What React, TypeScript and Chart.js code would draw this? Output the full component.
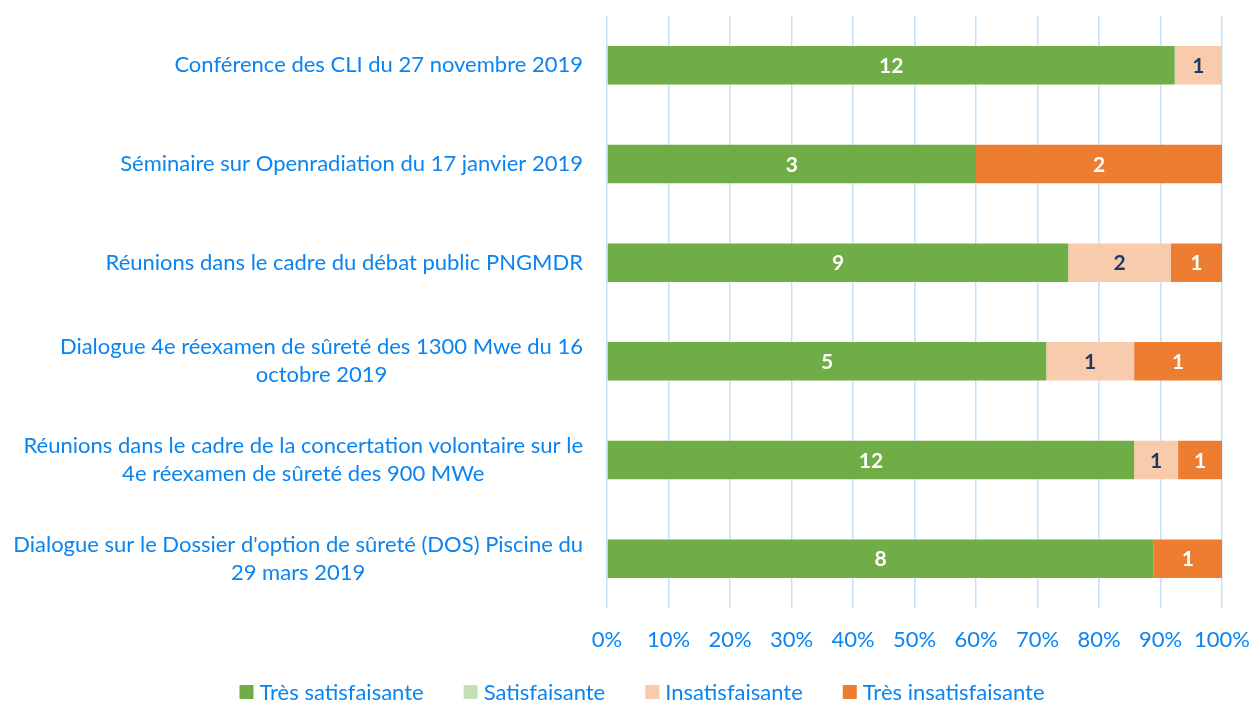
import React, { useEffect, useRef } from "react";
import { Chart, registerables } from "chart.js";

Chart.register(...registerables);

const categories: string[][] = [
  ["Conférence des CLI du 27 novembre 2019"],
  ["Séminaire sur Openradiation du 17 janvier 2019"],
  ["Réunions dans le cadre du débat public PNGMDR"],
  ["Dialogue 4e réexamen de sûreté des 1300 Mwe du 16", "octobre 2019"],
  ["Réunions dans le cadre de la concertation volontaire sur le", "4e réexamen de sûreté des 900 MWe"],
  ["Dialogue sur le Dossier d'option de sûreté (DOS) Piscine du", "29 mars 2019"],
];

const seriesNames = ["Très satisfaisante", "Satisfaisante", "Insatisfaisante", "Très insatisfaisante"];
const tresSatisfaisante = [12, 3, 9, 5, 12, 8];
const satisfaisante = [0, 0, 0, 0, 0, 0];
const insatisfaisante = [1, 0, 2, 1, 1, 0];
const tresInsatisfaisante = [0, 2, 1, 1, 1, 1];
const xTickLabels = ["0%", "10%", "20%", "30%", "40%", "50%", "60%", "70%", "80%", "90%", "100%"];

const colors = ["#70AD47", "#C5E0B4", "#F8CBAD", "#ED7D31"];
const labelColors = ["#FFFFFF", "#1F3864", "#1F3864", "#FFFFFF"];
const TEXT = "#0A84F0";
const FONT = "Lato";
const FS = 22;

export default function App() {
  const ref = useRef<HTMLCanvasElement>(null);
  useEffect(() => {
    document.body.style.margin = "0";
    const counts = [tresSatisfaisante, satisfaisante, insatisfaisante, tresInsatisfaisante];
    const totals = categories.map((_, i) => counts.reduce((s, arr) => s + arr[i], 0));
    const datasets = counts.map((arr, k) => ({
      label: seriesNames[k],
      data: arr.map((v, i) => (v / totals[i]) * 100),
      counts: arr,
      backgroundColor: colors[k],
      borderWidth: 0,
      categoryPercentage: 1,
      barPercentage: 0.39,
    }));

    const valueLabels = {
      id: "valueLabels",
      afterDatasetsDraw(chart: any) {
        const ctx = chart.ctx;
        ctx.save();
        ctx.font = `bold 21px ${FONT}`;
        ctx.textAlign = "center";
        ctx.textBaseline = "middle";
        chart.data.datasets.forEach((ds: any, k: number) => {
          const meta = chart.getDatasetMeta(k);
          meta.data.forEach((bar: any, i: number) => {
            const v = ds.counts[i];
            if (!v) return;
            const x = (bar.x + bar.base) / 2;
            ctx.fillStyle = labelColors[k];
            ctx.fillText(String(v), x, bar.y + 1);
          });
        });
        ctx.restore();
      },
    };

    const catLabels = {
      id: "catLabels",
      afterDraw(chart: any) {
        const ctx = chart.ctx;
        const y = chart.scales.y;
        ctx.save();
        ctx.font = `${FS}px ${FONT}`;
        ctx.fillStyle = TEXT;
        ctx.textBaseline = "middle";
        ctx.textAlign = "center";
        const right = 583;
        const lh = 28;
        categories.forEach((lines, i) => {
          const w = Math.max(...lines.map((l) => ctx.measureText(l).width));
          const cx = right - w / 2;
          const cy = y.getPixelForValue(i);
          const start = cy - ((lines.length - 1) * lh) / 2;
          lines.forEach((l, j) => ctx.fillText(l, cx, start + j * lh));
        });

        // legend
        const box = 14;
        const gap = 6;
        const itemGap = 40;
        const widths = seriesNames.map((n) => box + gap + ctx.measureText(n).width);
        const total = widths.reduce((a, b) => a + b, 0) + itemGap * (widths.length - 1);
        let x = 642 - total / 2;
        const ly = 692;
        ctx.textAlign = "left";
        seriesNames.forEach((n, k) => {
          ctx.fillStyle = colors[k];
          ctx.fillRect(x, ly - box / 2, box, box);
          ctx.fillStyle = TEXT;
          ctx.fillText(n, x + box + gap, ly + 1);
          x += widths[k] + itemGap;
        });
        ctx.restore();
      },
    };

    const chart = new Chart(ref.current!, {
      type: "bar",
      data: { labels: categories.map((c) => c.join(" ")), datasets: datasets as any },
      options: {
        indexAxis: "y",
        animation: false,
        responsive: false,
        layout: { padding: { top: 16, right: 29, left: 0, bottom: 0 } },
        scales: {
          x: {
            stacked: true,
            min: 0,
            max: 100,
            afterBuildTicks(scale: any) {
              scale.ticks = xTickLabels.map((_, i) => ({ value: i * 10 }));
            },
            afterFit(scale: any) {
              scale.height = 96;
              scale.paddingLeft = 0;
              scale.paddingRight = 0;
            },
            ticks: {
              color: TEXT,
              font: { family: FONT, size: FS },
              padding: 19,
              maxRotation: 0,
              callback: (_v: any, i: number) => xTickLabels[i],
            },
            grid: { color: "#C6E0FA", lineWidth: 1.5, drawTicks: false },
            border: { display: false },
          },
          y: {
            stacked: true,
            ticks: { display: false },
            grid: { display: false },
            border: { display: false },
            afterFit(scale: any) {
              scale.width = 607;
              scale.paddingTop = 0;
              scale.paddingBottom = 0;
            },
          },
        },
        plugins: {
          legend: { display: false },
          tooltip: { enabled: false },
        },
      },
      plugins: [valueLabels, catLabels],
    });
    return () => chart.destroy();
  }, []);
  return <canvas ref={ref} width={1251} height={704} style={{ display: "block" }} />;
}
